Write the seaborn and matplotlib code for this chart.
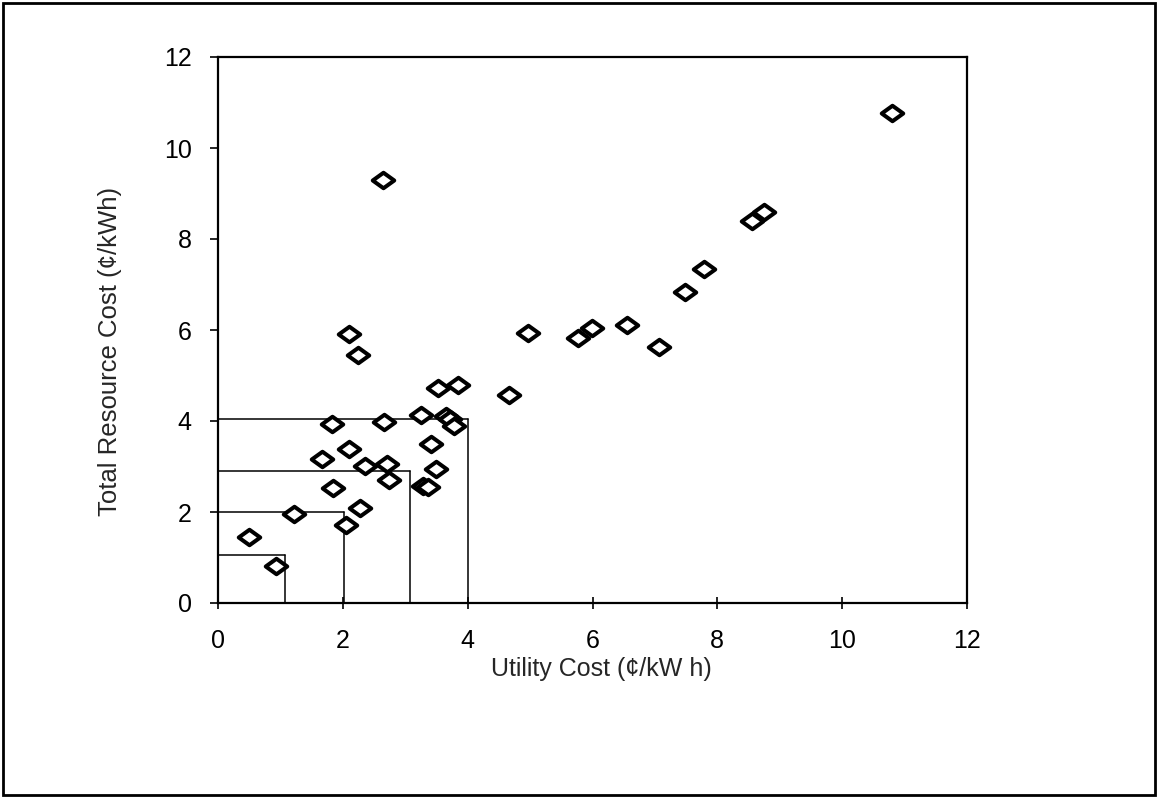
import matplotlib
matplotlib.use("Agg")
import matplotlib.pyplot as plt
from matplotlib.path import Path
from matplotlib.patches import Rectangle
import seaborn as sns
import pandas as pd

# ---- data ----
utility_cost = [0.49, 0.93, 1.21, 1.84, 1.67, 1.82, 2.10, 2.24, 2.10, 2.05,
                2.28, 2.36, 2.66, 2.71, 2.74, 3.25, 3.41, 3.50, 3.28, 3.36,
                3.53, 3.84, 3.66, 3.71, 3.78, 4.67, 4.96, 5.77, 5.99, 6.56,
                7.07, 7.48, 7.79, 8.56, 8.74, 2.64, 10.80]
resource_cost = [1.46, 0.82, 1.95, 2.53, 3.17, 3.93, 5.91, 5.46, 3.38, 1.72,
                 2.09, 3.02, 3.97, 3.06, 2.71, 4.14, 3.49, 2.95, 2.57, 2.55,
                 4.73, 4.80, 4.12, 4.04, 3.90, 4.58, 5.94, 5.83, 6.05, 6.10,
                 5.63, 6.83, 7.33, 8.40, 8.59, 9.29, 10.77]

box_x = [1.08, 2.02, 3.08, 4.00]
box_y = [1.05, 2.00, 2.90, 4.05]

x_ticks = [0, 2, 4, 6, 8, 10, 12]
y_ticks = [0, 2, 4, 6, 8, 10, 12]

df = pd.DataFrame({"utility": utility_cost, "resource": resource_cost})

sns.set_style("ticks")
plt.rcParams["font.family"] = ["Liberation Sans", "DejaVu Sans"]

fig = plt.figure(figsize=(11.58, 7.98), dpi=100)
ax = fig.add_axes([218 / 1158, 1 - 603 / 798, (967 - 218) / 1158, (603 - 57) / 798])

# outer frame around the figure
fig.patches.append(Rectangle((3 / 1158, 3 / 798), 1152 / 1158, 792 / 798,
                             transform=fig.transFigure, fill=False,
                             edgecolor="black", linewidth=2))

# nested cost boxes
for bx, by in zip(box_x, box_y):
    ax.plot([0, bx], [by, by], color="black", linewidth=1.1, zorder=2)
    ax.plot([bx, bx], [by, 0], color="black", linewidth=1.1, zorder=2)

diamond = Path([(-1, 0), (0, 0.72), (1, 0), (0, -0.72), (-1, 0)],
               [Path.MOVETO, Path.LINETO, Path.LINETO, Path.LINETO, Path.CLOSEPOLY])

sns.scatterplot(data=df, x="utility", y="resource", ax=ax, marker=diamond,
                s=240, facecolor="white", edgecolor="black", linewidth=2.9,
                zorder=3, legend=False)

ax.set_xlim(0, 12)
ax.set_ylim(0, 12)
ax.set_xticks(x_ticks)
ax.set_yticks(y_ticks)
ax.set_xticklabels([str(t) for t in x_ticks], fontsize=18)
ax.set_yticklabels([str(t) for t in y_ticks], fontsize=18)
ax.tick_params(axis="x", direction="inout", length=9, width=1.2, pad=14, colors="black")
ax.tick_params(axis="y", direction="out", length=6, width=1.2, pad=13, colors="black")
for sp in ax.spines.values():
    sp.set_visible(True)
    sp.set_linewidth(1.6)
    sp.set_color("black")
ax.grid(False)

ax.set_xlabel("Utility Cost (¢/kW h)", fontsize=18, labelpad=3)
ax.set_ylabel("Total Resource Cost (¢/kWh)", fontsize=18.5, labelpad=30)
ax.xaxis.label.set_x(0.512)
ax.yaxis.label.set_y(0.4615)

fig.savefig("out.png", dpi=100, facecolor="white")
